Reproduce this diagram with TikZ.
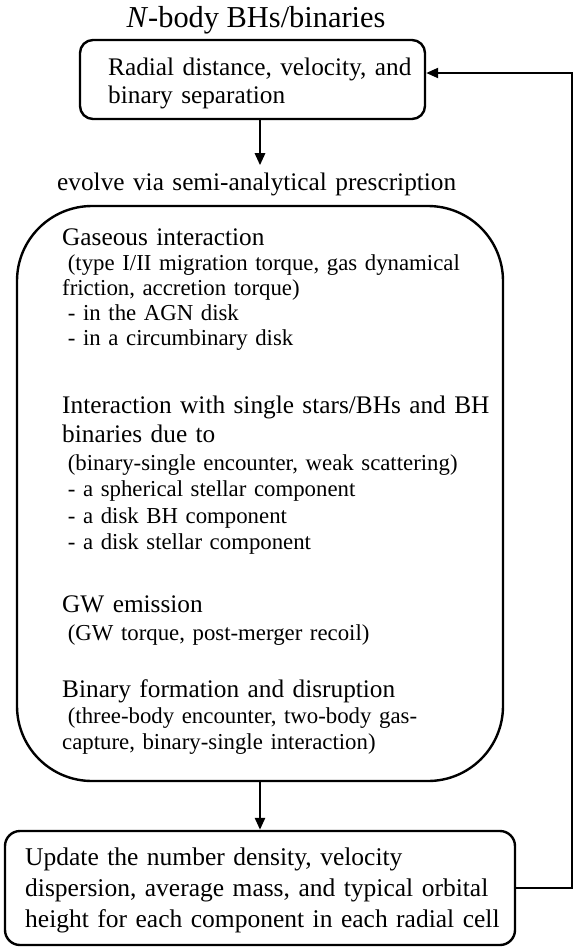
\documentclass[tikz,border=0pt]{standalone}
\usepackage{fontspec}
\setmainfont{Liberation Serif}
\usetikzlibrary{arrows.meta}

\begin{document}
\begin{tikzpicture}[x=1pt,y=-1pt,
    box/.style={draw,line width=2.4pt,inner sep=0pt},
    head/.style={anchor=base west,inner sep=0pt,text width=540pt,align=left,font=\fontsize{25.3}{29.5}\selectfont},
    detail/.style={anchor=base west,inner sep=0pt,text width=540pt,align=left,font=\fontsize{22.8}{26.5}\selectfont},
    flow/.style={line width=2.6pt,-{Triangle[length=12pt,width=10pt]}}]
    \useasboundingbox (0,0) rectangle (573,948);
    \node (TTL) at (256,27) [anchor=base,inner sep=0pt,font=\fontsize{30.4}{36}\selectfont] {\textit{N}-body BHs/binaries};
    \node (RDV) at (252.5,79.5) [box,rounded corners=13pt,minimum width=345pt,minimum height=79pt] {};
    \node (RDVtxt) at (108,75) [head,font=\fontsize{25.3}{28}\selectfont] {Radial distance, velocity, and\\binary separation};
    \node (EV) at (57,190) [head,inner ysep=7pt,inner xsep=0pt] {evolve via semi-analytical prescription};
    \node (EVO) at (260,493.5) [box,rounded corners=75pt,minimum width=486pt,minimum height=575pt] {};
    \node (GAS) at (62,245) [head] {Gaseous interaction};
    \node (GASd) at (62,270) [detail,font=\fontsize{22.8}{25}\selectfont] {\hspace*{0.25em}(type I/II migration torque, gas dynamical\\friction, accretion torque)\\\hspace*{0.25em}- in the AGN disk\\\hspace*{0.25em}- in a circumbinary disk};
    \node (STR) at (62,413) [head] {Interaction with single stars/BHs and BH\\binaries due to};
    \node (STRd) at (62,470) [detail] {\hspace*{0.25em}(binary-single encounter, weak scattering)\\\hspace*{0.25em}- a spherical stellar component\\\hspace*{0.25em}- a disk BH component\\\hspace*{0.25em}- a disk stellar component};
    \node (GW) at (62,612) [head] {GW emission};
    \node (GWd) at (62,640) [detail] {\hspace*{0.25em}(GW torque, post-merger recoil)};
    \node (BIN) at (62,697) [head] {Binary formation and disruption};
    \node (BINd) at (62,723) [detail] {\hspace*{0.25em}(three-body encounter, two-body gas-\\capture, binary-single interaction)};
    \node (UPD) at (260,888) [box,rounded corners=15pt,minimum width=510pt,minimum height=114pt] {};
    \node (UPDtxt) at (25,865) [head,font=\fontsize{25.5}{31}\selectfont] {Update the number density, velocity\\dispersion, average mass, and typical orbital\\height for each component in each radial cell};
    \coordinate (BACK) at (572,73);
    \draw[flow] (RDV.south -| EVO.north) -- (EV.north -| EVO.north);
    \draw[flow] (EVO.south) -- (UPD.north);
    \draw[flow,line width=2.2pt] (UPD.east) -| (BACK) -- (RDV.east |- BACK);
\end{tikzpicture}
\end{document}
